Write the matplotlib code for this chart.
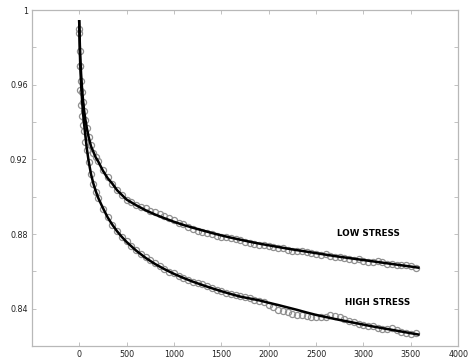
import numpy as np
import matplotlib
matplotlib.use("Agg")
import matplotlib.pyplot as plt

# Fitted curves
fit_x = [0, 10, 20, 30, 40, 50, 60, 80, 100, 125, 150, 175, 200, 250, 300, 350, 400,
         450, 500, 600, 700, 800, 900, 1000, 1100, 1200, 1300, 1400, 1500, 1600, 1700,
         1800, 1900, 2000, 2100, 2200, 2300, 2400, 2500, 2600, 2700, 2800, 2900, 3000,
         3100, 3200, 3300, 3400, 3500, 3580]
fit_low = [0.994, 0.976, 0.966, 0.958, 0.952, 0.947, 0.943, 0.937, 0.932, 0.927, 0.924,
           0.921, 0.919, 0.914, 0.910, 0.907, 0.9035, 0.901, 0.8985, 0.8955, 0.8928,
           0.8905, 0.8885, 0.8866, 0.8849, 0.8834, 0.882, 0.8806, 0.8793, 0.8781, 0.877,
           0.8759, 0.8749, 0.874, 0.8731, 0.8722, 0.8714, 0.8706, 0.8698, 0.869, 0.8682,
           0.8675, 0.8668, 0.8661, 0.8654, 0.8647, 0.864, 0.8633, 0.8626, 0.862]
fit_high = [0.994, 0.972, 0.960, 0.952, 0.945, 0.940, 0.935, 0.926, 0.919, 0.912, 0.907,
            0.903, 0.8995, 0.894, 0.889, 0.885, 0.8815, 0.8785, 0.8758, 0.8712, 0.8673,
            0.864, 0.8612, 0.8587, 0.8565, 0.8545, 0.8527, 0.851, 0.8494, 0.8479, 0.8465,
            0.8455, 0.8445, 0.8432, 0.842, 0.8407, 0.8394, 0.838, 0.8367, 0.8356, 0.8345,
            0.8335, 0.8325, 0.8315, 0.8305, 0.8296, 0.8287, 0.8278, 0.8269, 0.8262]

# Measured points (circles)
meas_x = [0, 5, 10, 20, 30, 40, 50, 65, 80, 100, 125, 150, 175, 200, 250, 300, 350, 400,
          450, 500, 550, 600, 650, 700, 750, 800, 850, 900, 950, 1000, 1050, 1100, 1150,
          1200, 1250, 1300, 1350, 1400, 1450, 1500, 1550, 1600, 1650, 1700, 1750, 1800,
          1850, 1900, 1950, 2000, 2050, 2100, 2150, 2200, 2250, 2300, 2350, 2400, 2450,
          2500, 2550, 2600, 2650, 2700, 2750, 2800, 2850, 2900, 2950, 3000, 3050, 3100,
          3150, 3200, 3250, 3300, 3350, 3400, 3450, 3500, 3550]
meas_low = [0.990, 0.978, 0.970, 0.962, 0.956, 0.951, 0.946, 0.941, 0.937, 0.932, 0.9275,
            0.9235, 0.9215, 0.919, 0.9145, 0.9105, 0.9068, 0.9038, 0.9008, 0.8985, 0.8972,
            0.8958, 0.8945, 0.8938, 0.8925, 0.8918, 0.8905, 0.8898, 0.8885, 0.8878, 0.8862,
            0.8852, 0.8838, 0.8828, 0.8818, 0.8812, 0.8806, 0.8798, 0.8792, 0.8786, 0.8782,
            0.8778, 0.8772, 0.8768, 0.8758, 0.8752, 0.8748, 0.8744, 0.8742, 0.8736, 0.8733,
            0.8728, 0.8724, 0.8716, 0.8708, 0.8708, 0.8712, 0.8705, 0.8698, 0.8692, 0.8689,
            0.8691, 0.8684, 0.8676, 0.8678, 0.8672, 0.8664, 0.8662, 0.8668, 0.8658, 0.8652,
            0.8650, 0.8655, 0.8648, 0.8641, 0.8642, 0.8636, 0.8634, 0.8632, 0.8628, 0.8617]
meas_high = [0.988, 0.970, 0.957, 0.949, 0.9435, 0.9385, 0.935, 0.9295, 0.925, 0.9185,
             0.912, 0.9068, 0.9028, 0.8995, 0.8935, 0.8892, 0.8848, 0.8818, 0.8782, 0.8762,
             0.8738, 0.8715, 0.8695, 0.8678, 0.866, 0.8645, 0.8628, 0.8615, 0.8598, 0.8592,
             0.8578, 0.8566, 0.8552, 0.8542, 0.8538, 0.8532, 0.8522, 0.851, 0.8498, 0.8494,
             0.8486, 0.8477, 0.8472, 0.8468, 0.8462, 0.8455, 0.8448, 0.8444, 0.8436, 0.8422,
             0.8408, 0.8395, 0.8388, 0.8380, 0.8374, 0.8368, 0.8364, 0.8362, 0.8358, 0.8354,
             0.8354, 0.8356, 0.8365, 0.8362, 0.8355, 0.8345, 0.8336, 0.8328, 0.8318, 0.8312,
             0.8306, 0.8305, 0.8298, 0.829, 0.8292, 0.8295, 0.8284, 0.8275, 0.8268, 0.8266,
             0.8268]

frame_color = "#b8b8b8"

fig = plt.figure(figsize=(4.68, 3.62), dpi=100)
ax = fig.add_axes([0.068, 0.044, 0.911, 0.928])

for y in (meas_low, meas_high):
    ax.plot(meas_x, y, linestyle="none", marker="o", markersize=4.4,
            markerfacecolor="none", markeredgecolor="#909090", markeredgewidth=0.9)
for y in (fit_low, fit_high):
    ax.plot(fit_x, y, color="black", linewidth=1.8)

ax.text(3054, 0.8804, "LOW STRESS", fontsize=6.3, fontweight="bold", ha="center", va="center")
ax.text(3150, 0.8434, "HIGH STRESS", fontsize=6.3, fontweight="bold", ha="center", va="center")

ax.set_xlim(-500, 4000)
ax.set_ylim(0.82, 1.0)
ax.set_xticks([0, 500, 1000, 1500, 2000, 2500, 3000, 3500, 4000])
yt = [0.82, 0.84, 0.86, 0.88, 0.90, 0.92, 0.94, 0.96, 0.98, 1.0]
ax.set_yticks(yt)
ax.set_yticklabels(["", "0.84", "", "0.88", "", "0.92", "", "0.96", "", "1"])

ax.tick_params(direction="in", length=3, width=0.6, colors=frame_color,
               labelcolor="#222222", labelsize=5.8, top=True, right=True, pad=3)
for s in ax.spines.values():
    s.set_color(frame_color)
    s.set_linewidth(0.9)

fig.savefig("out.png", dpi=100)
